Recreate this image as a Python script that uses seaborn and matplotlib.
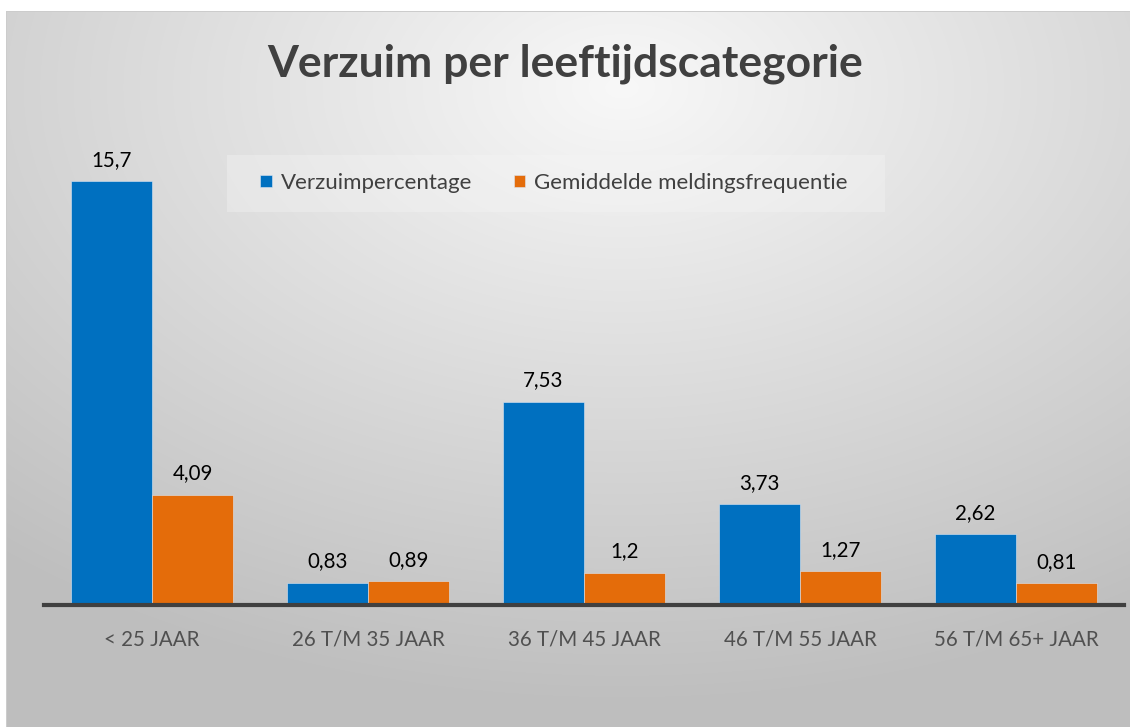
import numpy as np
import pandas as pd
import matplotlib
matplotlib.use('Agg')
import matplotlib.pyplot as plt
from matplotlib.patches import Rectangle
import seaborn as sns

# Data
categories = ['< 25 JAAR', '26 T/M 35 JAAR', '36 T/M 45 JAAR', '46 T/M 55 JAAR', '56 T/M 65+ JAAR']
verzuimpercentage = [15.7, 0.83, 7.53, 3.73, 2.62]
meldingsfrequentie = [4.09, 0.89, 1.2, 1.27, 0.81]
series_names = ['Verzuimpercentage', 'Gemiddelde meldingsfrequentie']

df = pd.DataFrame({
    'categorie': categories * 2,
    'serie': [series_names[0]] * len(categories) + [series_names[1]] * len(categories),
    'waarde': verzuimpercentage + meldingsfrequentie,
})

sns.set_style('white')
plt.rcParams['font.family'] = ['Lato', 'DejaVu Sans']

W, H = 1130, 727
fig = plt.figure(figsize=(W / 100, H / 100), dpi=100)
fig.patch.set_facecolor('white')

# Background panel with radial gradient
bg = fig.add_axes([0, 0, 1, 1], zorder=0)
yy, xx = np.mgrid[0:H, 0:W]
r = np.sqrt(((xx - 0.55 * W) / W) ** 2 + ((yy - 0.12 * H) / H) ** 2)
shade = np.clip(248 - 68 * r, 190, 250) / 255.0
img = np.dstack([shade, shade, shade])
img[:12, :, :] = 1.0
img[:, :7, :] = 1.0
img[11, 7:, :] = 0.8
img[11:, 6, :] = 0.8
bg.imshow(img, aspect='auto', interpolation='bilinear')
bg.axis('off')

# legend backdrop
fig.patches.append(Rectangle((227 / W, 1 - 212 / H), 658 / W, 57 / H,
                             transform=fig.transFigure, facecolor='#f6f6f6',
                             alpha=0.35, edgecolor='none', zorder=0.5))

ax = fig.add_axes([44 / W, 1 - 605 / H, 1080 / W, 486 / H], zorder=1)
ax.patch.set_alpha(0)

sns.barplot(data=df, x='categorie', y='waarde', hue='serie',
            palette=['#0070C0', '#E46C0A'], width=0.75, saturation=1,
            edgecolor='#dce6f2', linewidth=0.4, ax=ax)

ax.set_ylim(0, 18)
ax.set_xlim(-0.5, 4.5)
ax.set_xlabel('')
ax.set_ylabel('')
ax.set_yticks([])
for s in ['top', 'right', 'left']:
    ax.spines[s].set_visible(False)
ax.spines['bottom'].set_color('#404040')
ax.spines['bottom'].set_linewidth(3)
ax.tick_params(axis='x', length=0, pad=18, labelsize=14.8, labelcolor='#505050')

for cont in ax.containers:
    ax.bar_label(cont, labels=[f'{v:g}'.replace('.', ',') for v in cont.datavalues],
                 padding=8, fontsize=14.8, color='black')

leg = ax.legend(loc='center', bbox_to_anchor=(554 / W, 1 - 183 / H),
                bbox_transform=fig.transFigure, ncol=2, frameon=False,
                fontsize=16, handlelength=0.5, handleheight=0.5,
                handletextpad=0.4, columnspacing=1.9, borderpad=0,
                borderaxespad=0)
for t in leg.get_texts():
    t.set_color('#404040')

fig.text(0.5, 1 - 64 / H, 'Verzuim per leeftijdscategorie', ha='center', va='center',
         fontsize=32, fontweight='bold', color='#404040')

fig.savefig('out.png', dpi=100)
